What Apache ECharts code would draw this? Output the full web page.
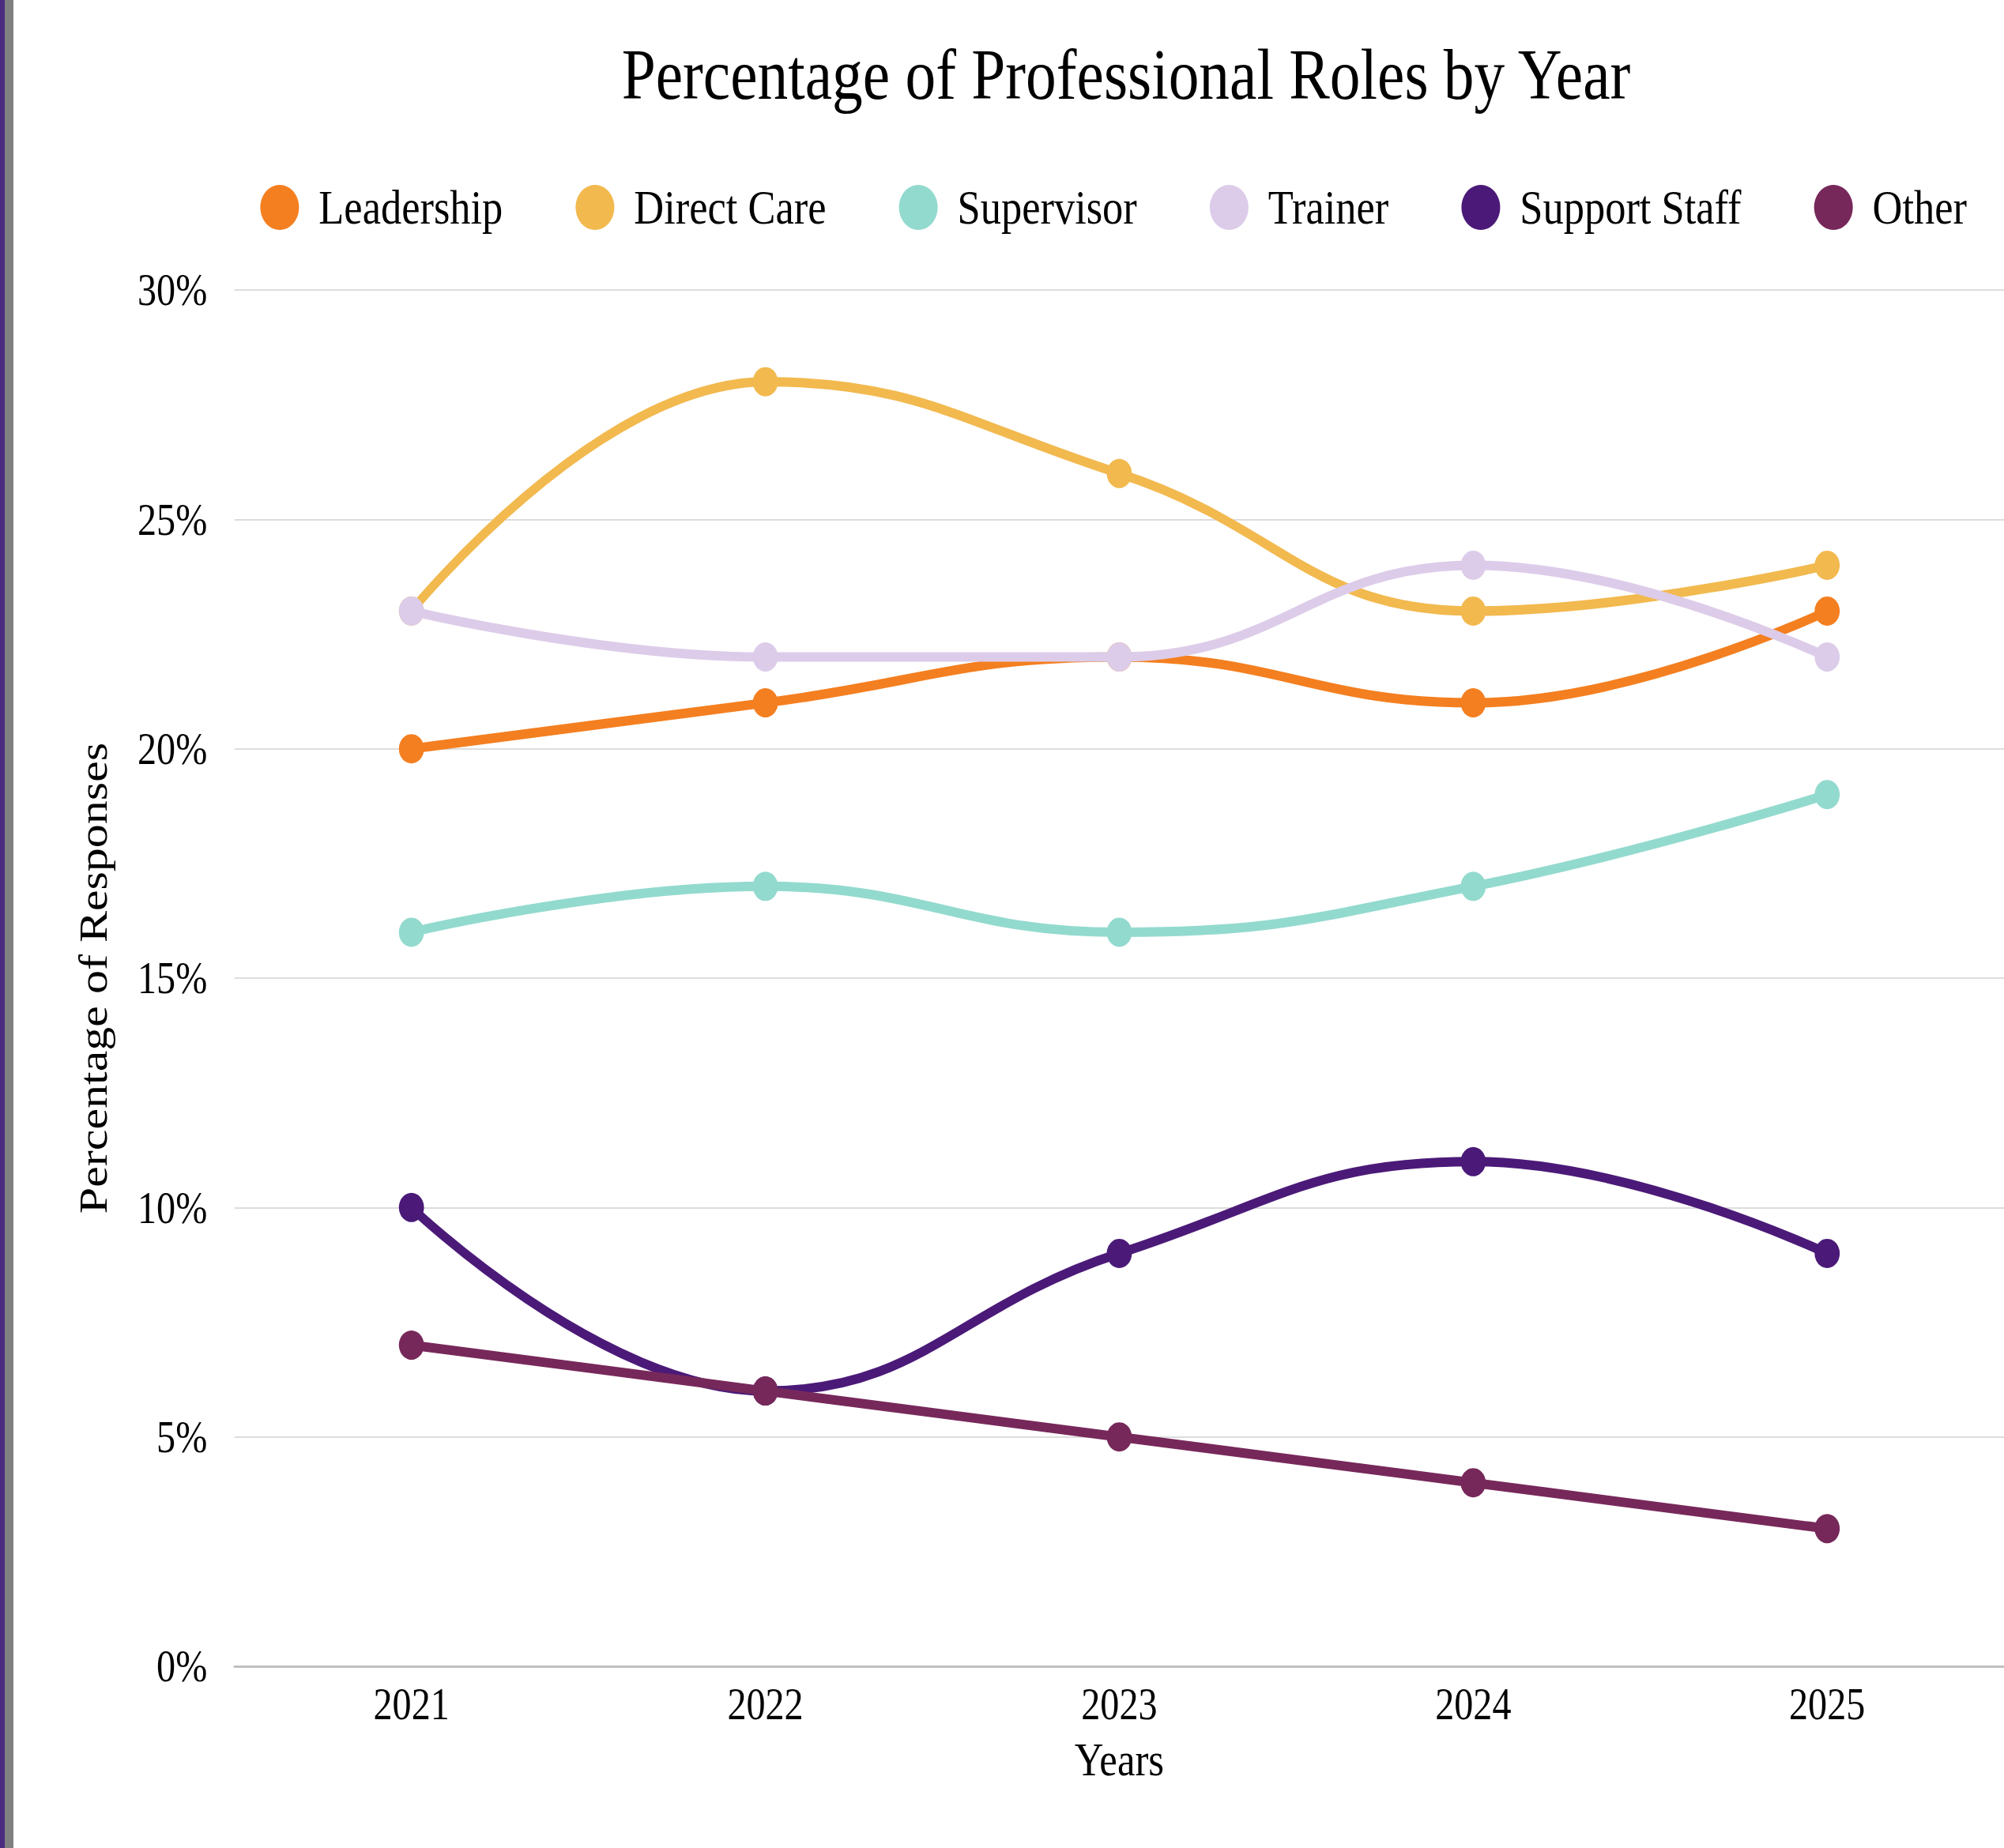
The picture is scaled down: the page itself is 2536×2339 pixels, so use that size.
<!DOCTYPE html>
<html>
<head>
<meta charset="utf-8">
<script src="https://cdn.jsdelivr.net/npm/echarts@6/dist/echarts.min.js"></script>
<style>
  html, body { margin: 0; padding: 0; background: #ffffff; overflow: hidden; }
  #wrap { position: absolute; left: 0; top: 0; width: 2536px; height: 2339px; overflow: hidden; }
  #chart { position: absolute; left: 0; top: 0; width: 2949px; height: 2339px; transform: scaleX(0.86); transform-origin: 0 0; }
  #barP { position: absolute; left: 0; top: 0; width: 6px; height: 2339px; background: #4a2b80; }
  #barG { position: absolute; left: 6px; top: 0; width: 11px; height: 2339px; background: #808080; }
</style>
</head>
<body>
<div id="wrap">
  <div id="chart"></div>
  <div id="barP"></div>
  <div id="barG"></div>
</div>
<script>
const years = ['2021', '2022', '2023', '2024', '2025'];
const leadership = [20, 21, 22, 21, 23];
const directCare = [23, 28, 26, 23, 24];
const supervisor = [16, 17, 16, 17, 19];
const trainer = [23, 22, 22, 24, 22];
const supportStaff = [10, 6, 9, 11, 9];
const other = [7, 6, 5, 4, 3];

const seriesNames = ['Leadership', 'Direct Care', 'Supervisor', 'Trainer', 'Support Staff', 'Other'];
const seriesData = [leadership, directCare, supervisor, trainer, supportStaff, other];
const colors = ['#F47F20', '#F2B94F', '#93DACE', '#DCCCE9', '#4B1A78', '#77285A'];

const FONT = '"Liberation Serif", "Times New Roman", serif';

const chart = echarts.init(document.getElementById('chart'), null, { renderer: 'svg' });

chart.setOption({
  animation: false,
  backgroundColor: '#ffffff',
  color: colors,
  title: {
    text: 'Percentage of Professional Roles by Year',
    left: 1652,
    textAlign: 'center',
    top: 44,
    textStyle: { fontFamily: FONT, fontSize: 90, fontWeight: 'normal', color: '#000' }
  },
  legend: {
    left: 378,
    top: 227,
    itemWidth: 57,
    itemHeight: 57,
    itemGap: 107,
    icon: 'circle',
    data: seriesNames,
    textStyle: { fontFamily: FONT, fontSize: 61, color: '#000', padding: [0, 0, 0, 24] }
  },
  grid: { left: 345, top: 367, width: 2616, height: 1742, containLabel: false },
  xAxis: {
    type: 'category',
    data: years,
    boundaryGap: true,
    name: 'Years',
    nameLocation: 'middle',
    nameGap: 89,
    nameTextStyle: { fontFamily: FONT, fontSize: 59, color: '#000' },
    axisLine: { show: true, lineStyle: { color: '#c0c0c0', width: 3 } },
    axisTick: { show: false },
    axisLabel: { fontFamily: FONT, fontSize: 56, color: '#000', margin: 20 },
    splitLine: { show: false }
  },
  yAxis: {
    type: 'value',
    min: 0,
    max: 30,
    interval: 5,
    name: 'Percentage of Responses',
    nameLocation: 'middle',
    nameGap: 178,
    nameTextStyle: { fontFamily: FONT, fontSize: 60, color: '#000' },
    axisLine: { show: false },
    axisTick: { show: false },
    axisLabel: { fontFamily: FONT, fontSize: 56, color: '#000', margin: 40, formatter: '{value}%' },
    splitLine: { show: true, lineStyle: { color: '#dddddd', width: 2 } }
  },
  series: seriesNames.map((name, i) => ({
    name: name,
    type: 'line',
    data: seriesData[i],
    smooth: 0.45,
    symbol: 'circle',
    symbolSize: 37,
    showSymbol: true,
    lineStyle: { width: 12, color: colors[i] },
    itemStyle: { color: colors[i] },
    z: 2 + i
  }))
});
</script>
</body>
</html>
